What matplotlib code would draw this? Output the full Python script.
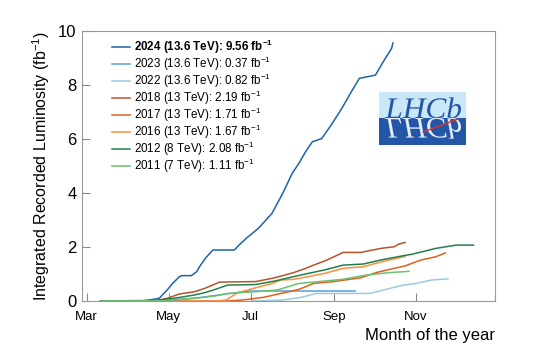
import numpy as np
import matplotlib as mpl
mpl.use("Agg")
import matplotlib.pyplot as plt
from matplotlib.textpath import TextPath
from matplotlib.patches import PathPatch, Rectangle
from matplotlib.font_manager import FontProperties
from matplotlib.transforms import Affine2D

plt.rcParams['font.family'] = ['Liberation Sans', 'DejaVu Sans']
plt.rcParams['mathtext.default'] = 'regular'

# day of year vs integrated lumi (fb^-1)
days_2024 = [88, 103, 114, 120, 124, 129, 131, 138, 142, 144, 149, 154, 170, 174, 179, 188, 198, 206,
             213, 218, 223, 228, 235, 242, 250, 257, 263, 275, 280, 287, 288]
lumi_2024 = [0, 0.01, 0.1, 0.41, 0.65, 0.9, 0.94, 0.94, 1.09, 1.27, 1.62, 1.89, 1.89, 2.1, 2.33, 2.7, 3.25, 3.99,
             4.73, 5.1, 5.53, 5.9, 6.02, 6.52, 7.14, 7.75, 8.25, 8.37, 8.8, 9.36, 9.56]
days_2023 = [100, 122, 140, 155, 170, 179, 181, 260]
lumi_2023 = [0, 0.04, 0.1, 0.2, 0.3, 0.35, 0.37, 0.37]
days_2022 = [183, 205, 218, 222, 231, 271, 286, 296, 305, 317, 329]
lumi_2022 = [0, 0.03, 0.12, 0.16, 0.28, 0.28, 0.47, 0.59, 0.65, 0.78, 0.82]
days_2018 = [85, 111, 120, 129, 140, 148, 159, 186, 200, 214, 222, 229, 239, 251, 264, 279, 289, 292, 297]
lumi_2018 = [0, 0.01, 0.1, 0.26, 0.34, 0.47, 0.7, 0.72, 0.86, 1.05, 1.19, 1.33, 1.52, 1.8, 1.8, 1.95, 2.01, 2.1, 2.17]
days_2017 = [125, 165, 177, 192, 202, 218, 229, 244, 264, 276, 289, 297, 309, 320, 327]
lumi_2017 = [0, 0, 0.04, 0.14, 0.25, 0.43, 0.65, 0.72, 0.86, 1.06, 1.21, 1.3, 1.52, 1.64, 1.78]
days_2016 = [122, 157, 164, 172, 183, 198, 205, 214, 237, 251, 266, 280, 297]
lumi_2016 = [0, 0, 0.04, 0.3, 0.45, 0.65, 0.78, 0.8, 1.02, 1.21, 1.27, 1.46, 1.65]
days_2012 = [70, 107, 113, 125, 140, 148, 154, 165, 186, 200, 214, 222, 237, 251, 266, 279, 296, 302, 320, 335, 348]
lumi_2012 = [0, 0.02, 0.03, 0.1, 0.22, 0.31, 0.4, 0.59, 0.61, 0.74, 0.9, 0.99, 1.15, 1.33, 1.37, 1.52, 1.68, 1.73,
             1.95, 2.07, 2.07]
days_2011 = [72, 116, 131, 148, 155, 165, 185, 202, 218, 233, 250, 268, 285, 300]
lumi_2011 = [0, 0.01, 0.06, 0.14, 0.18, 0.28, 0.34, 0.41, 0.65, 0.72, 0.8, 0.96, 1.05, 1.1]

labels = ['2024 (13.6 TeV): 9.56 fb$^{-1}$', '2023 (13.6 TeV): 0.37 fb$^{-1}$', '2022 (13.6 TeV): 0.82 fb$^{-1}$',
          '2018 (13 TeV): 2.19 fb$^{-1}$', '2017 (13 TeV): 1.71 fb$^{-1}$', '2016 (13 TeV): 1.67 fb$^{-1}$',
          '2012 (8 TeV): 2.08 fb$^{-1}$', '2011 (7 TeV): 1.11 fb$^{-1}$']
colors = ['#1f63a6', '#5a9fd4', '#9ecae1', '#b5542a', '#e0601c', '#fd8d3c', '#22804a', '#6cc070']
month_ticks = [60, 121, 182, 244, 305]
month_names = ['Mar', 'May', 'Jul', 'Sep', 'Nov']

series = [(days_2024, lumi_2024), (days_2023, lumi_2023), (days_2022, lumi_2022), (days_2018, lumi_2018),
          (days_2017, lumi_2017), (days_2016, lumi_2016), (days_2012, lumi_2012), (days_2011, lumi_2011)]

fig = plt.figure(figsize=(5.5, 3.5), dpi=100)
ax = fig.add_axes([0.149, 0.14, 0.751, 0.771])
for (d, l), lab, c in zip(series, labels, colors):
    ax.plot(d, l, color=c, lw=1.1, label=lab)

ax.set_xlim(56.5, 364)
ax.set_ylim(0, 10)
ax.set_xticks(month_ticks)
ax.set_xticklabels(month_names, fontsize=9.5)
ax.set_yticks([0, 2, 4, 6, 8, 10])
ax.tick_params(axis='y', labelsize=12, direction='in', length=6, color='#888888', pad=4)
ax.tick_params(axis='x', direction='in', length=6, color='#888888', pad=7)
for s in ax.spines.values():
    s.set_color('#999999')
ax.set_ylabel('Integrated Recorded Luminosity (fb$^{-1}$)', fontsize=11.5)
ax.set_xlabel('Month of the year', fontsize=12, loc='right')

leg = ax.legend(loc='upper left', bbox_to_anchor=(0.072, 0.975), frameon=False, fontsize=8.4,
                handlelength=1.6, handletextpad=0.3, labelspacing=-0.1, borderpad=0, borderaxespad=0)
leg.get_texts()[0].set_fontweight('bold')

# LHCb logo
lax = fig.add_axes([379 / 550, 1 - 145 / 350, 87 / 550, 53 / 350])
lax.set_xlim(0, 87)
lax.set_ylim(0, 53)
lax.axis('off')
lax.add_patch(Rectangle((0, 27), 87, 26, color='#c9e8f7', lw=0))
lax.add_patch(Rectangle((0, 0), 87, 27, color='#2356a6', lw=0))
tp = TextPath((0, 0), 'LHCb', size=30, prop=FontProperties(family='Liberation Serif', style='italic'))
ext = tp.get_extents()
sx = 76 / ext.width
sy = 21 / ext.height
top = Affine2D().translate(-ext.x0, 0).scale(sx, sy).translate(6, 27)
bot = Affine2D().translate(-ext.x0, 0).scale(sx, -sy).translate(6, 27)
lax.add_patch(PathPatch(top.transform_path(tp), color='#2356a6', lw=0))
lax.add_patch(PathPatch(bot.transform_path(tp), color='#e3eef8', lw=0))
lax.plot([44, 79], [13, 26], color='#e0302a', lw=1)

fig.savefig('out.png', dpi=100)
